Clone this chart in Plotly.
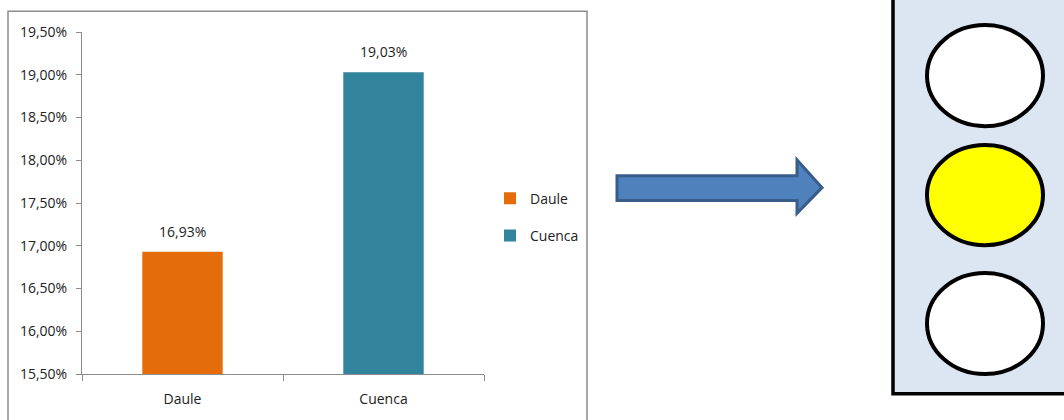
import plotly.graph_objects as go

categories = ["Daule", "Cuenca"]
values = [0.1693, 0.1903]
colors = ["#E46C0A", "#31849B"]
y_ticks = [0.155, 0.16, 0.165, 0.17, 0.175, 0.18, 0.185, 0.19, 0.195]

W, H = 1064, 420
L, R, T, B = 82, 484, 32, 377


def px(x):
    return (x - L) / (R - L)


def py(y):
    return (B - y) / (B - T)


fig = go.Figure()
for c, v, col in zip(categories, values, colors):
    fig.add_trace(go.Bar(
        x=[c], y=[v], name=c, marker=dict(color=col, line=dict(width=0)),
        legendgroup=c, width=0.4,
    ))

annotations = [
    dict(x=c, y=v, xref="x", yref="y", text=f"{v * 100:.2f}%".replace(".", ","),
         showarrow=False, yanchor="bottom", yshift=9, font=dict(size=14, color="#222"))
    for c, v in zip(categories, values)
]

font_family = "Open Sans, sans-serif"

shapes = []
# chart outer border
shapes.append(dict(type="rect", xref="paper", yref="paper",
                   x0=px(8), x1=px(587), y0=py(430), y1=py(11),
                   line=dict(color="#8C8C8C", width=1.5), fillcolor="rgba(0,0,0,0)", layer="below"))
# arrow
pts = [(617, 177), (797, 177), (797, 161), (822, 189), (797, 215), (797, 202), (617, 202)]
path = "M " + " L ".join(f"{px(x):.5f},{py(y):.5f}" for x, y in pts) + " Z"
shapes.append(dict(type="path", xref="paper", yref="paper", path=path,
                   fillcolor="#4F81BD", line=dict(color="#385D8A", width=3)))
# traffic light box
shapes.append(dict(type="rect", xref="paper", yref="paper",
                   x0=px(893), x1=px(1075), y0=py(397), y1=py(-10),
                   fillcolor="#DCE6F2", line=dict(color="#000000", width=3.5)))
lights = [("#FFFFFF", 25, 127), ("#FFFF00", 146, 247), ("#FFFFFF", 275, 377)]
for fill, y0, y1 in lights:
    shapes.append(dict(type="circle", xref="paper", yref="paper",
                       x0=px(927), x1=px(1043), y0=py(y1), y1=py(y0),
                       fillcolor=fill, line=dict(color="#000000", width=4)))

fig.update_layout(
    width=W, height=H,
    margin=dict(l=L, r=W - R, t=T, b=H - B),
    paper_bgcolor="white", plot_bgcolor="white",
    separators=",.",
    barmode="overlay",
    font=dict(family=font_family, size=13, color="#222"),
    showlegend=True,
    legend=dict(x=px(490), y=py(184), xanchor="left", yanchor="top",
                font=dict(size=14, color="#222"), tracegroupgap=16,
                itemwidth=30, bgcolor="rgba(0,0,0,0)"),
    shapes=shapes,
    annotations=annotations,
    xaxis=dict(showline=True, linecolor="#8C8C8C", linewidth=1,
               ticks="outside", tickson="boundaries", ticklen=6, tickcolor="#8C8C8C",
               showgrid=False, tickfont=dict(size=14), ticklabelstandoff=12),
    yaxis=dict(range=[0.155, 0.195], tickvals=y_ticks, tickformat=".2%",
               showline=True, linecolor="#8C8C8C", linewidth=1,
               ticks="outside", ticklen=5, tickcolor="#8C8C8C",
               showgrid=False, zeroline=False, tickfont=dict(size=14),
               ticklabelstandoff=6),
)

fig.write_html("out.html", config={"displayModeBar": False},
               post_script="document.body.style.margin='0';document.body.style.overflow='hidden';")
